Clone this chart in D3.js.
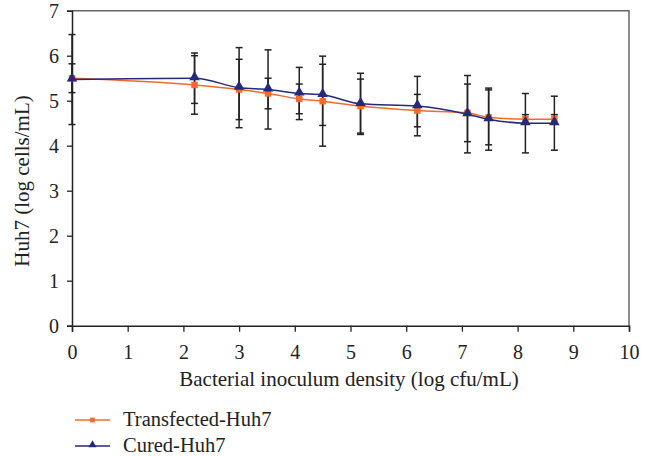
<!DOCTYPE html>
<html><head><meta charset="utf-8">
<script src="https://cdn.jsdelivr.net/npm/d3@7"></script>
<style>body{margin:0;background:#fff}svg text{font-family:"Liberation Serif","DejaVu Serif",serif;fill:#222}</style>
</head><body><svg id="c" width="649" height="456"></svg>
<script>
const xVals = [0, 2.2, 3.0, 3.52, 4.08, 4.5, 5.18, 6.2, 7.1, 7.48, 8.14, 8.66];
const transfected = [5.5, 5.35, 5.25, 5.16, 5.04, 4.99, 4.88, 4.78, 4.73, 4.63, 4.59, 4.59];
const transfectedErr = [0.32, 0.65, 0.67, 0.34, 0.33, 1.0, 0.6, 0.36, 0.64, 0.61, 0.1, 0.1];
const cured = [5.47, 5.5, 5.29, 5.25, 5.16, 5.13, 4.93, 4.88, 4.70, 4.59, 4.50, 4.50];
const curedErr = [1.0, 0.56, 0.89, 0.88, 0.58, 0.68, 0.68, 0.66, 0.86, 0.69, 0.66, 0.6];
const xTicks = [0,1,2,3,4,5,6,7,8,9,10];
const yTicks = [0,1,2,3,4,5,6,7];
const seriesNames = ["Transfected-Huh7", "Cured-Huh7"];

const svg = d3.select("#c");
const x = d3.scaleLinear().domain([0,10]).range([72,629]);
const y = d3.scaleLinear().domain([0,7]).range([325.7,10.7]);
const orange = "#f26b2a", navy = "#24297a";

svg.append("path").attr("d",`M${x(0)},${y(7)}H${x(10)}V${y(0)}`).attr("fill","none").attr("stroke","#666").attr("stroke-width",1.5);

const xa = svg.append("g").attr("transform",`translate(0,${y(0)})`)
  .call(d3.axisBottom(x).tickValues(xTicks).tickSize(6).tickPadding(13).tickFormat(d3.format("d")));
const ya = svg.append("g").attr("transform",`translate(${x(0)},0)`)
  .call(d3.axisLeft(y).tickValues(yTicks).tickSize(5).tickPadding(8).tickFormat(d3.format("d")));
[xa,ya].forEach(a=>{a.selectAll("path").attr("stroke","#222").attr("stroke-width",1.5);
  a.selectAll("line").attr("stroke","#222").attr("stroke-width",1.3);
  a.selectAll("text").attr("font-size",20).attr("fill","#222");});

svg.append("text").attr("x",349).attr("y",386).attr("text-anchor","middle").attr("font-size",21).text("Bacterial inoculum density (log cfu/mL)");
svg.append("text").attr("transform","translate(29,181) rotate(-90)").attr("text-anchor","middle").attr("font-size",21).text("Huh7 (log cells/mL)");

const line = d3.line().x(d=>x(d[0])).y(d=>y(d[1])).curve(d3.curveMonotoneX);
const tData = xVals.map((v,i)=>[v,transfected[i]]);
const cData = xVals.map((v,i)=>[v,cured[i]]);
svg.append("path").attr("d",line(tData)).attr("fill","none").attr("stroke",orange).attr("stroke-width",1.5);
svg.append("path").attr("d",line(cData)).attr("fill","none").attr("stroke",navy).attr("stroke-width",1.5);

function errBars(vals, errs){
  const g = svg.append("g").attr("stroke","#222").attr("stroke-width",1.5);
  xVals.forEach((v,i)=>{
    const cx = x(v), hi = y(vals[i]+errs[i]), lo = y(vals[i]-errs[i]);
    g.append("line").attr("x1",cx).attr("x2",cx).attr("y1",hi).attr("y2",lo);
    g.append("line").attr("x1",cx-3.5).attr("x2",cx+3.5).attr("y1",hi).attr("y2",hi);
    g.append("line").attr("x1",cx-3.5).attr("x2",cx+3.5).attr("y1",lo).attr("y2",lo);
  });
}
errBars(transfected, transfectedErr);
errBars(cured, curedErr);

const sq = d3.symbol().type(d3.symbolSquare).size(42);
const tri = d3.symbol().type(d3.symbolTriangle).size(48);
svg.append("g").selectAll("path").data(tData).join("path")
  .attr("transform",d=>`translate(${x(d[0])},${y(d[1])})`).attr("d",sq).attr("fill",orange);
svg.append("g").selectAll("path").data(cData).join("path")
  .attr("transform",d=>`translate(${x(d[0])},${y(d[1])-1})`).attr("d",tri).attr("fill",navy);

const leg = svg.append("g");
[[orange,sq],[navy,tri]].forEach((s,i)=>{
  const ly = 420 + i*26;
  leg.append("line").attr("x1",75).attr("x2",110).attr("y1",ly).attr("y2",ly).attr("stroke",s[0]).attr("stroke-width",1.5);
  leg.append("path").attr("transform",`translate(92.5,${ly - (i?1:0)})`).attr("d", i? d3.symbol().type(d3.symbolTriangle).size(28)() : d3.symbol().type(d3.symbolSquare).size(22)()).attr("fill",s[0]);
  leg.append("text").attr("x",123).attr("y",ly+6).attr("font-size",20.5).text(seriesNames[i]);
});
</script></body></html>
